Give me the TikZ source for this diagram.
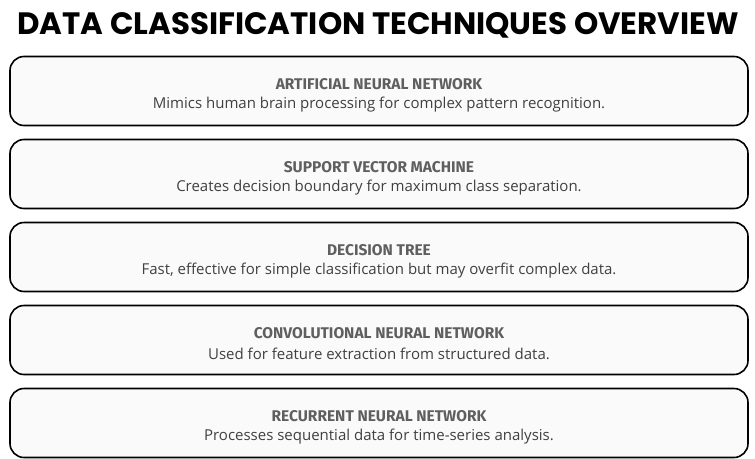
\documentclass[tikz,border=0pt]{standalone}
\usepackage{fontspec}
\setmainfont{Open Sans}
\newfontfamily\titlefont{Poppins}[UprightFont=* Bold]
\newfontfamily\headfont{Fira Sans}[UprightFont=* Bold]
\definecolor{boxfill}{HTML}{FAFAFA}
\definecolor{headgray}{HTML}{5F5F5F}
\definecolor{descgray}{HTML}{404040}
\begin{document}
\begin{tikzpicture}[x=1pt,y=1pt,
  techbox/.style={draw=black, line width=1.6pt, rounded corners=14pt, fill=boxfill, minimum width=738pt, minimum height=69pt, inner sep=0pt},
  headtext/.style={font=\headfont\fontsize{15.5}{18}\selectfont, text=headgray},
  desctext/.style={font=\fontsize{15}{18}\selectfont, text=descgray}]
\useasboundingbox (0,0) rectangle (755,-458);
\node[font=\titlefont\fontsize{30.9}{34}\selectfont, text=black] (title) at (378,-25) {DATA CLASSIFICATION TECHNIQUES OVERVIEW};
\foreach \i/\h/\d in {
  1/ARTIFICIAL NEURAL NETWORK/Mimics human brain processing for complex pattern recognition.,
  2/SUPPORT VECTOR MACHINE/Creates decision boundary for maximum class separation.,
  3/DECISION TREE/{Fast, effective for simple classification but may overfit complex data.},
  4/CONVOLUTIONAL NEURAL NETWORK/Used for feature extraction from structured data.,
  5/RECURRENT NEURAL NETWORK/Processes sequential data for time-series analysis.}{
  \pgfmathsetmacro{\yc}{-91-83*(\i-1)}
  \node[techbox] (box\i) at (379,\yc) {};
  \node[headtext] (head\i) at (379,\yc+7) {\h};
  \node[desctext] (desc\i) at (379,\yc-14) {\d};
}
\end{tikzpicture}
\end{document}
